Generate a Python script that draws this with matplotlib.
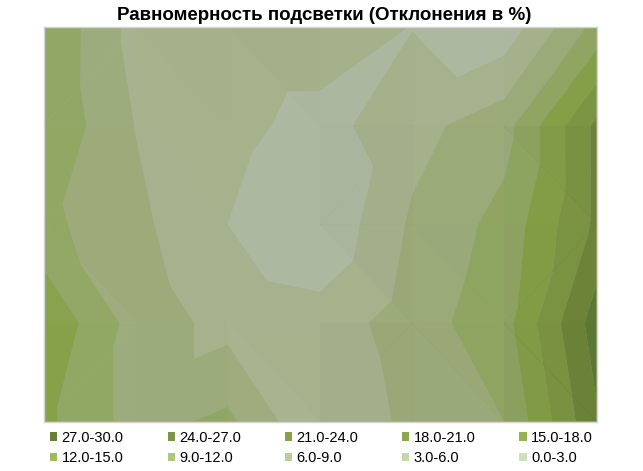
import numpy as np
import matplotlib
matplotlib.use('Agg')
import matplotlib.pyplot as plt
import matplotlib.tri as mtri
from matplotlib.collections import PolyCollection
from matplotlib.patches import Patch

plt.rcParams['font.family'] = ['Liberation Sans', 'DejaVu Sans']

title = 'Равномерность подсветки (Отклонения в %)'

# deviations at the grid nodes, top row first
row0 = [17.8, 10.9, 10.97, 10.9, 8.9, 7.0, 16.0]
row1 = [17.7, 11.9, 9.95, 7.94, 10.9, 13.85, 24.7]
row2 = [15.8, 12.75, 8.98, 6.34, 12.46, 16.0, 24.66]
row3 = [20.6, 13.8, 10.95, 10.2, 13.6, 16.9, 28.5]
row4 = [18.75, 13.8, 15.7, 9.0, 12.83, 15.0, 26.6]

levels = [0, 3, 6, 9, 12, 15, 18, 21, 24, 27, 30]
band_labels = ['0.0-3.0', '3.0-6.0', '6.0-9.0', '9.0-12.0', '12.0-15.0',
               '15.0-18.0', '18.0-21.0', '21.0-24.0', '24.0-27.0', '27.0-30.0']
# colours as they look on the surface and in the legend (they differ)
surface_colors = ['#c8d2b8', '#bcc6ac', '#adb8a0', '#a5b28c', '#9cab7a',
                  '#90a662', '#85a048', '#7d9644', '#70863a', '#607b34']
legend_colors = ['#d0dfbc', '#c4d7a7', '#bace99', '#afc67f', '#9ebb5c',
                 '#97b255', '#8fa850', '#87a04a', '#7c9446', '#6a7d3b']

z = np.array([row0, row1, row2, row3, row4])
ny, nx = z.shape
xx, yy = np.meshgrid(np.arange(nx), np.arange(ny))
xr = xx.ravel().astype(float)
yr = yy.ravel().astype(float)
zz = z.ravel()

# each cell is cut along the diagonal with the lower sum
tris = []
for j in range(ny - 1):
    for i in range(nx - 1):
        tl = j * nx + i
        tr = tl + 1
        bl = tl + nx
        br = bl + 1
        if zz[tl] + zz[br] <= zz[tr] + zz[bl]:
            tris += [[tl, tr, br], [tl, bl, br]]
        else:
            tris += [[tl, tr, bl], [tr, bl, br]]
tris = np.array(tris)
tri = mtri.Triangulation(xr, yr, tris)

# facet shading, each triangle gets a faint tint from its slope
tints = []
for t in tris:
    A = np.column_stack([xr[t], yr[t], np.ones(3)])
    dx, dy, _ = np.linalg.solve(A, zz[t])
    s = np.clip((dy - dx) / 25.0, -1, 1)
    if s > 0:
        tints.append((1, 1, 1, 0.07 * s))
    else:
        tints.append((0, 0, 0, -0.06 * s))

fig = plt.figure(figsize=(6.43, 4.71), dpi=100)
ax = fig.add_axes([43.5 / 643, 1 - 421.5 / 471, (596.5 - 43.5) / 643, (421.5 - 27) / 471])
ax.set_facecolor('#a0ae88')

ax.tricontourf(tri, zz, levels=levels, colors=surface_colors, antialiased=True)
verts = [np.column_stack([xr[t], yr[t]]) for t in tris]
ax.add_collection(PolyCollection(verts, facecolors=tints, edgecolors='none', antialiased=False))

ax.set_xlim(0, nx - 1)
ax.set_ylim(ny - 1, 0)
ax.set_xticks([])
ax.set_yticks([])
for sp in ax.spines.values():
    sp.set_color('#d4d4d4')
    sp.set_linewidth(1)

fig.text(324.5 / 643, 1 - 15.5 / 471, title, ha='center', va='center',
         fontsize=13.5, fontweight='bold', color='black')

# legend goes row by row, matplotlib fills by column
order = [9, 4, 8, 3, 7, 2, 6, 1, 5, 0]
handles = [Patch(facecolor=legend_colors[i], edgecolor='none') for i in order]
labels = [band_labels[i] for i in order]
fig.legend(handles, labels, ncol=5, loc='center', frameon=False,
           bbox_to_anchor=(321.5 / 643, 1 - 448 / 471), fontsize=10.5,
           handlelength=0.5, handleheight=0.5, handletextpad=0.3,
           columnspacing=3.0, labelspacing=0.45, borderpad=0, borderaxespad=0)

plt.savefig('out.png', dpi=100)
